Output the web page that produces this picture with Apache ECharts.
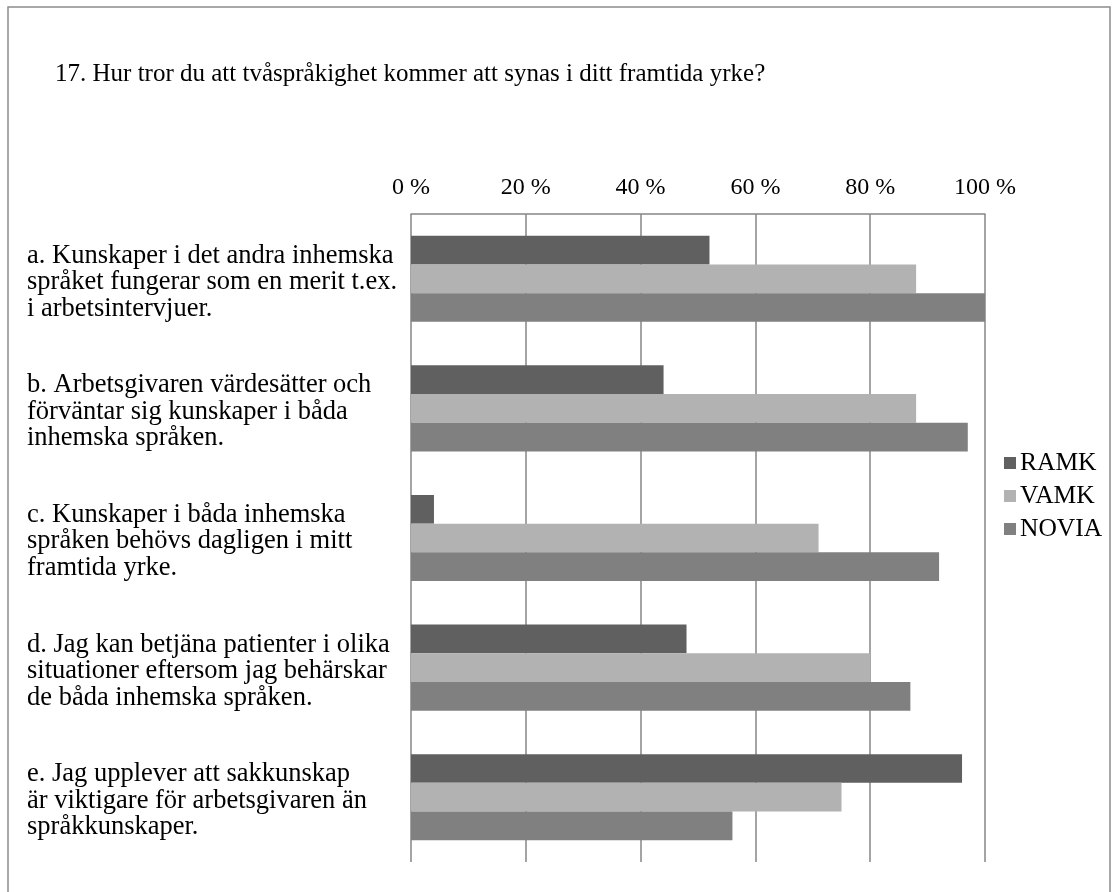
<!DOCTYPE html>
<html>
<head>
<meta charset="utf-8">
<script src="https://cdn.jsdelivr.net/npm/echarts@6/dist/echarts.min.js"></script>
<style>
  html, body { margin: 0; padding: 0; background: #fff; }
  #chart { width: 1118px; height: 892px; }
</style>
</head>
<body>
<div id="chart"></div>
<script>
// frågor (kategorier), uppifrån och ned
const categories = [
    'a. Kunskaper i det andra inhemska\nspråket fungerar som en merit t.ex.\ni arbetsintervjuer.',
    'b. Arbetsgivaren värdesätter och\nförväntar sig kunskaper i båda\ninhemska språken.',
    'c. Kunskaper i båda inhemska\nspråken behövs dagligen i mitt\nframtida yrke.',
    'd. Jag kan betjäna patienter i olika\nsituationer eftersom jag behärskar\nde båda inhemska språken.',
    'e. Jag upplever att sakkunskap\när viktigare för arbetsgivaren än\nspråkkunskaper.'
];

// andel i procent
const ramk  = [52, 44, 4, 48, 96];
const vamk  = [88, 88, 71, 80, 75];
const novia = [100, 97, 92, 87, 56];

const xTicks = [0, 20, 40, 60, 80, 100];

const serif = '"Liberation Serif", "Times New Roman", serif';
const chart = echarts.init(document.getElementById('chart'));

const option = {
    animation: false,
    backgroundColor: '#fff',
    textStyle: { fontFamily: serif, color: '#000' },
    title: {
        text: '17. Hur tror du att tvåspråkighet kommer att synas i ditt framtida yrke?',
        left: 50,
        top: 57,
        textStyle: { fontFamily: serif, fontSize: 25, fontWeight: 'normal', color: '#000' }
    },
    legend: {
        orient: 'vertical',
        left: 999,
        top: 445,
        itemWidth: 12,
        itemHeight: 12,
        itemGap: 7,
        icon: 'rect',
        textStyle: { fontFamily: serif, fontSize: 25.5, lineHeight: 25, color: '#000', padding: [0, 0, 0, -1] },
        data: ['RAMK', 'VAMK', 'NOVIA']
    },
    grid: { left: 411, right: 133, top: 214, bottom: 30, containLabel: false },
    xAxis: {
        type: 'value',
        position: 'top',
        min: 0,
        max: 100,
        interval: 20,
        axisLine: { show: true, lineStyle: { color: '#868686', width: 1.5 } },
        axisTick: { show: false },
        axisLabel: {
            fontFamily: serif,
            fontSize: 24,
            color: '#000',
            margin: 14,
            formatter: v => xTicks.includes(v) ? v + ' %' : ''
        },
        splitLine: { show: true, lineStyle: { color: '#868686', width: 1.5 } }
    },
    yAxis: {
        type: 'category',
        inverse: true,
        data: categories,
        axisLine: { show: false },
        axisTick: { show: false },
        axisLabel: {
            fontFamily: serif,
            fontSize: 26.5,
            lineHeight: 26.5,
            color: '#000',
            align: 'left',
            margin: 384,
            // liten tom rad överst flyttar texten något nedåt
            formatter: v => '{s|\u200b}\n' + v.split('\n').map(l => '{t|' + l + '}').join('\n'),
            rich: {
                s: { fontSize: 2, lineHeight: 7 },
                t: { fontFamily: serif, fontSize: 26.5, lineHeight: 26.5, color: '#000' }
            }
        }
    },
    series: [
        { name: 'RAMK', type: 'bar', data: ramk, barGap: 0, barCategoryGap: '33.6%', itemStyle: { color: '#606060' } },
        { name: 'VAMK', type: 'bar', data: vamk, barGap: 0, barCategoryGap: '33.6%', itemStyle: { color: '#b2b2b2' } },
        { name: 'NOVIA', type: 'bar', data: novia, barGap: 0, barCategoryGap: '33.6%', itemStyle: { color: '#808080' } }
    ],
    graphic: [{
        type: 'rect',
        shape: { x: 8, y: 7, width: 1102, height: 900 },
        style: { fill: 'none', stroke: '#8c8c8c', lineWidth: 1.5 },
        silent: true,
        z: 100
    }]
};

chart.setOption(option);
window.addEventListener('resize', () => chart.resize());
</script>
</body>
</html>
